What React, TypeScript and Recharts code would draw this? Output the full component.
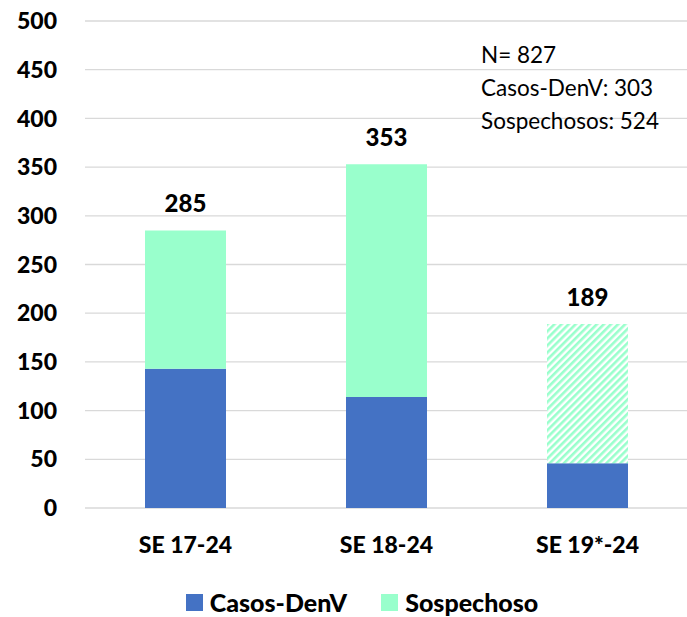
import { BarChart, Bar, XAxis, YAxis, CartesianGrid, Legend, LabelList, Cell } from 'recharts'

const semanas = ['SE 17-24', 'SE 18-24', 'SE 19*-24']
const casosDenV = [143, 114, 46]
const sospechosos = [142, 239, 143]
const yTicks = [0, 50, 100, 150, 200, 250, 300, 350, 400, 450, 500]
const notas = ['N= 827', 'Casos-DenV: 303', 'Sospechosos: 524']

const BLUE = '#4472C4'
const MINT = '#99FFCC'
const FONT = 'Lato, "Open Sans", sans-serif'

const data = semanas.map((name, i) => ({
    name,
    casos: casosDenV[i],
    sospechoso: sospechosos[i],
    total: casosDenV[i] + sospechosos[i],
}))

function LegendContent() {
    const items = [
        { label: 'Casos-DenV', color: BLUE },
        { label: 'Sospechoso', color: MINT },
    ]
    return (
        <div style={{ display: 'flex', justifyContent: 'center', gap: 34, paddingLeft: 36, paddingTop: 3, fontFamily: FONT, fontWeight: 900, fontSize: 25, color: '#000', lineHeight: '30px' }}>
            {items.map((it) => (
                <div key={it.label} style={{ display: 'flex', alignItems: 'center', gap: 7 }}>
                    <span style={{ width: 17, height: 17, background: it.color, display: 'inline-block' }} />
                    <span>{it.label}</span>
                </div>
            ))}
        </div>
    )
}

export default function App() {
    return (
        <div style={{ position: 'absolute', left: 0, top: 0, background: '#fff' }}>
            <BarChart
                width={687}
                height={617}
                data={data}
                margin={{ top: 21, right: -1, left: 0, bottom: 0 }}
                barCategoryGap={60}
            >
                <defs>
                    <pattern id="hatch" patternUnits="userSpaceOnUse" width="5" height="5" patternTransform="rotate(45)">
                        <rect x="0" y="0" width="5" height="5" fill="#fff" />
                        <rect x="0" y="0" width="2.6" height="5" fill={MINT} />
                    </pattern>
                </defs>
                <CartesianGrid vertical={false} stroke="#d9d9d9" strokeWidth={1.3} />
                <XAxis
                    dataKey="name"
                    axisLine={false}
                    tickLine={false}
                    tickSize={0}
                    tickMargin={29}
                    height={76}
                    tick={{ fill: '#000', fontSize: 23, fontWeight: 900, fontFamily: FONT }}
                />
                <YAxis
                    domain={[0, 500]}
                    ticks={yTicks}
                    axisLine={false}
                    tickLine={false}
                    tickSize={0}
                    tickMargin={28}
                    width={85}
                    interval={0}
                    tick={{ fill: '#000', fontSize: 23, fontWeight: 900, fontFamily: FONT }}
                />
                <Legend verticalAlign="bottom" content={<LegendContent />} />
                <Bar dataKey="casos" name="Casos-DenV" stackId="a" fill={BLUE} isAnimationActive={false} />
                <Bar dataKey="sospechoso" name="Sospechoso" stackId="a" fill={MINT} isAnimationActive={false}>
                    {data.map((d, i) => (
                        <Cell key={d.name} fill={i === data.length - 1 ? 'url(#hatch)' : MINT} />
                    ))}
                    <LabelList
                        dataKey="total"
                        position="top"
                        offset={18}
                        style={{ fill: '#000', fontSize: 24, fontWeight: 900, fontFamily: FONT }}
                    />
                </Bar>
                <g>
                    {notas.map((t, i) => (
                        <text key={t} x={481} y={63 + i * 33} fontSize={22.5} fontFamily={FONT} fill="#000">
                            {t}
                        </text>
                    ))}
                </g>
            </BarChart>
        </div>
    )
}
